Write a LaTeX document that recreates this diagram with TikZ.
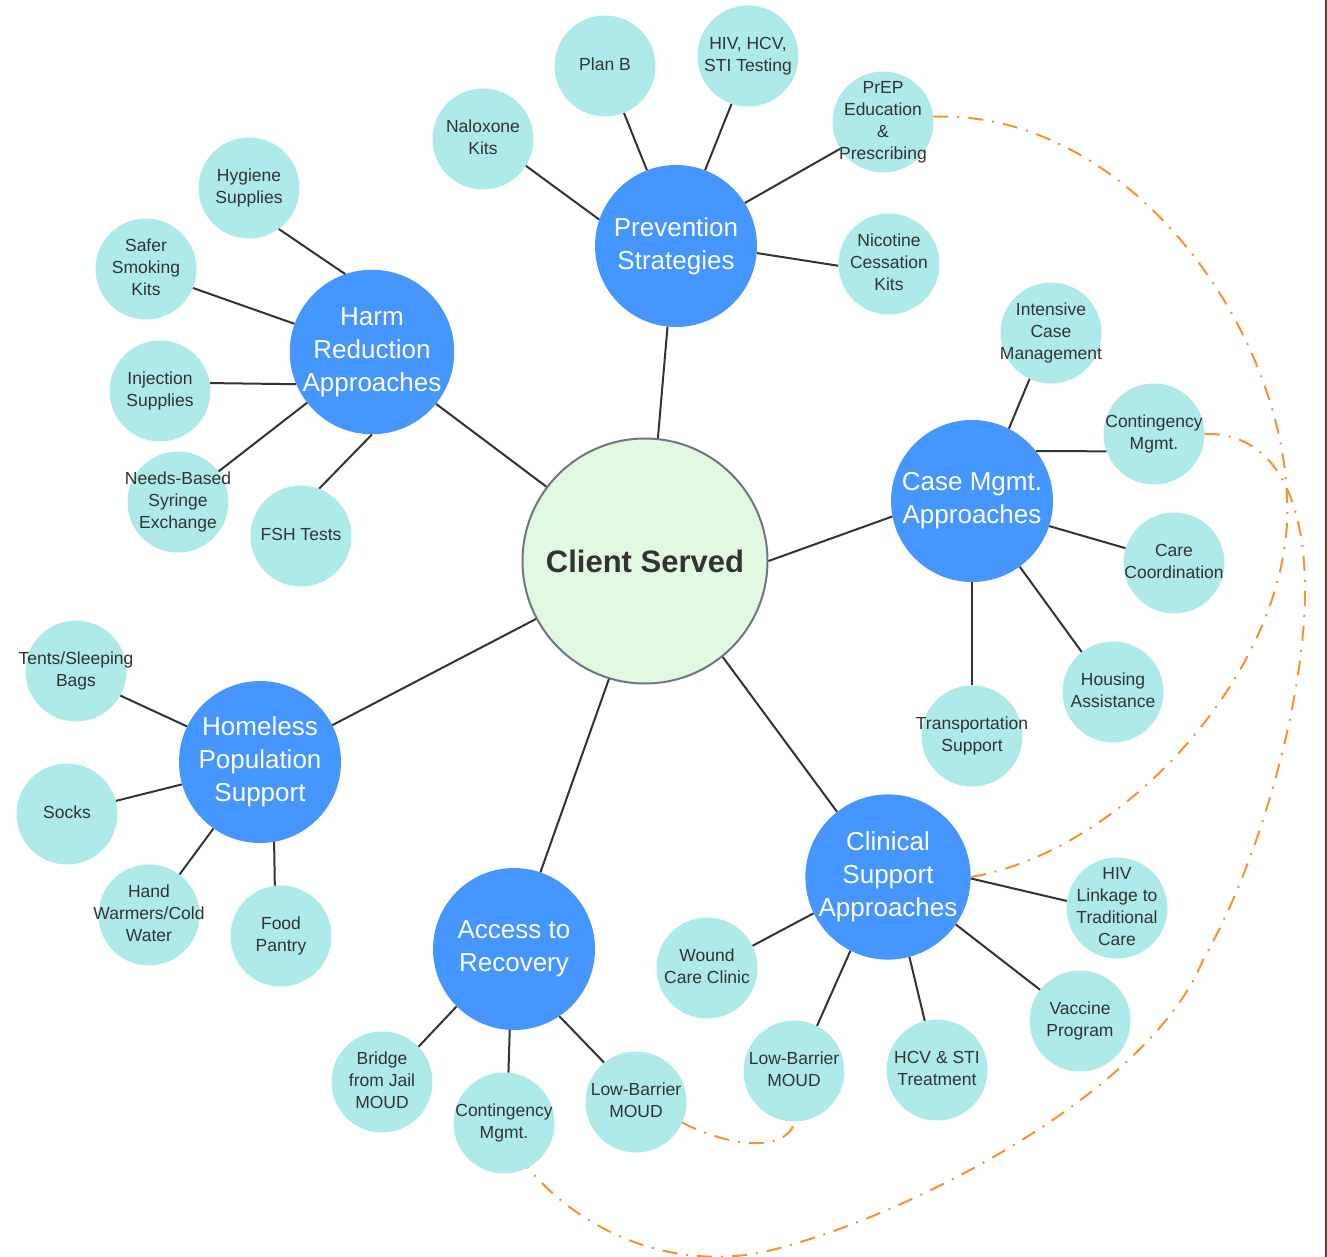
\documentclass[tikz,border=0pt]{standalone}
\usepackage{fontspec}
\setmainfont{Liberation Sans}
\definecolor{hubblue}{HTML}{4596FE}
\definecolor{leafcyan}{HTML}{AEEAEA}
\definecolor{clientgreen}{HTML}{E1F9E1}
\definecolor{clientrim}{HTML}{6E7681}
\definecolor{inkgray}{HTML}{333333}
\definecolor{linkorange}{HTML}{F8922A}
\definecolor{framebrown}{HTML}{5A4636}

% centred lines in a box of no width, so long words may spill past the circle
\newcommand{\lines}[1]{\makebox[0pt][c]{\begin{tabular}{@{}c@{}}#1\end{tabular}}}

\begin{document}
\begin{tikzpicture}[x=1pt,y=-1pt,
  leaf/.style={circle, fill=leafcyan, minimum size=101pt, inner sep=0pt,
    text=inkgray, font=\fontsize{17.5}{22}\selectfont},
  hub/.style={circle, fill=hubblue, minimum size=162pt, inner sep=0pt, align=center,
    text=white, font=\fontsize{26}{33}\selectfont},
  client/.style={circle, fill=clientgreen, draw=clientrim, line width=2pt, minimum size=245pt,
    inner sep=0pt, text=inkgray, font=\bfseries\fontsize{31}{36}\selectfont},
  link/.style={draw=inkgray, line width=2pt},
  relation/.style={draw=linkorange, line width=2pt, dash pattern=on 15pt off 9pt on 2pt off 9pt}]

% canvas
\useasboundingbox (0,0) rectangle (1327,1257);
\fill[white] (0,0) rectangle (1327,1257);
\fill[framebrown] (1324.5,0) rectangle (1327,1257);

% centre
\node[client] (client) at (645,561) {Client Served};

% hubs
\node[hub] (prev) at (676,246) {Prevention\\Strategies};
\node[hub] (harm) at (372,352) {Harm\\Reduction\\Approaches};
\node[hub] (case) at (972,501) {Case Mgmt.\\Approaches};
\node[hub] (home) at (260,762) {Homeless\\Population\\Support};
\node[hub] (atr)  at (514,949) {Access to\\Recovery};
\node[hub] (clin) at (888,877) {Clinical\\Support\\Approaches};

% prevention leaves
\node[leaf] (planb) at (605,66)  {\lines{Plan B}};
\node[leaf] (hivt)  at (748,56)  {\lines{HIV, HCV,\\STI Testing}};
\node[leaf] (nalox) at (483,139) {\lines{Naloxone\\Kits}};
\node[leaf] (prep)  at (883,122) {\lines{PrEP\\Education\\\&\\Prescribing}};
\node[leaf] (nic)   at (889,264) {\lines{Nicotine\\Cessation\\Kits}};

% harm reduction leaves
\node[leaf] (hyg)    at (249,188) {\lines{Hygiene\\Supplies}};
\node[leaf] (smoke)  at (146,269) {\lines{Safer\\Smoking\\Kits}};
\node[leaf] (inj)    at (160,391) {\lines{Injection\\Supplies}};
\node[leaf] (needle) at (178,502) {\lines{Needs-Based\\Syringe\\Exchange}};
\node[leaf] (fsh)    at (301,536) {\lines{FSH Tests}};

% case management leaves
\node[leaf] (icm)     at (1051,333) {\lines{Intensive\\Case\\Management}};
\node[leaf] (cmc)     at (1154,434) {\lines{Contingency\\Mgmt.}};
\node[leaf] (coord)   at (1174,563) {\lines{Care\\Coordination}};
\node[leaf] (housing) at (1113,692) {\lines{Housing\\Assistance}};
\node[leaf] (transp)  at (972,736)  {\lines{Transportation\\Support}};

% homeless support leaves
\node[leaf] (tents) at (76,671)  {\lines{Tents/Sleeping\\Bags}};
\node[leaf] (socks) at (67,814)  {\lines{Socks}};
\node[leaf] (warm)  at (149,915) {\lines{Hand\\Warmers/Cold\\Water}};
\node[leaf] (food)  at (281,936) {\lines{Food\\Pantry}};

% access to recovery leaves
\node[leaf] (bridge) at (382,1082) {\lines{Bridge\\from Jail\\MOUD}};
\node[leaf] (cma)    at (504,1123) {\lines{Contingency\\Mgmt.}};
\node[leaf] (lba)    at (636,1102) {\lines{Low-Barrier\\MOUD}};

% clinical support leaves
\node[leaf] (wound) at (707,968)  {\lines{Wound\\Care Clinic}};
\node[leaf] (lbc)   at (794,1071) {\lines{Low-Barrier\\MOUD}};
\node[leaf] (hcv)   at (937,1070) {\lines{HCV \& STI\\Treatment}};
\node[leaf] (vacc)  at (1080,1021) {\lines{Vaccine\\Program}};
\node[leaf] (hivl)  at (1117,908) {\lines{HIV\\Linkage to\\Traditional\\Care}};

% spokes from the centre
\draw[link] (client.84)  -- (prev.264);
\draw[link] (client.143) -- (harm.-39);
\draw[link] (client.0)   -- (case.191);
\draw[link] (client.208) -- (home.27);
\draw[link] (client.253) -- (atr.71);
\draw[link] (client.-51) -- (clin.128);

% prevention
\draw[link] (nalox.-32)  -- (prev.161);
\draw[link] (planb.-68)  -- (prev.111);
\draw[link] (hivt.-109)  -- (prev.69);
\draw[link] (prep.212)   -- (prev.32);
\draw[link] (nic.182)    -- (prev.-5);

% harm reduction
\draw[link] (hyg.-54)    -- (harm.109);
\draw[link] (smoke.-22)  -- (harm.160);
\draw[link] (inj.9)      -- (harm.203);
\draw[link] (needle.37)  -- (harm.218);
\draw[link] (fsh.69)     -- (harm.270);

% case management
\draw[link] (icm.245)     -- (case.63);
\draw[link] (cmc.200)     -- (case.38);
\draw[link] (coord.163)   -- (case.-18);
\draw[link] (housing.128) -- (case.-54);
\draw[link] (transp.90)   -- (case.270);

% homeless support
\draw[link] (tents.-29) -- (home.154);
\draw[link] (socks.15)  -- (home.196);
\draw[link] (warm.53)   -- (home.235);
\draw[link] (food.97)   -- (home.280);

% access to recovery
\draw[link] (bridge.44) -- (atr.225);
\draw[link] (cma.85)    -- (atr.267);
\draw[link] (lba.129)   -- (atr.-56);

% clinical support
\draw[link] (wound.26)  -- (clin.206);
\draw[link] (lbc.63)    -- (clin.243);
\draw[link] (hcv.104)   -- (clin.285);
\draw[link] (vacc.142)  -- (clin.-35);
\draw[link] (hivl.172)  -- (clin.-1);

% related services
\draw[relation] (prep.6) .. controls (1130,110) and (1283,330) .. (1287,500)
  .. controls (1295,660) and (1130,850) .. (clin.0);
\draw[relation] (cmc.0) .. controls (1275,432) and (1305,500) .. (1305,590)
  .. controls (1305,700) and (1260,860) .. (1203,960)
  .. controls (1150,1090) and (920,1210) .. (783,1247)
  .. controls (690,1275) and (590,1241) .. (cma.-62);
\draw[relation] (lba.-24) .. controls (725,1145) and (785,1155) .. (lbc.-89);

\end{tikzpicture}
\end{document}
